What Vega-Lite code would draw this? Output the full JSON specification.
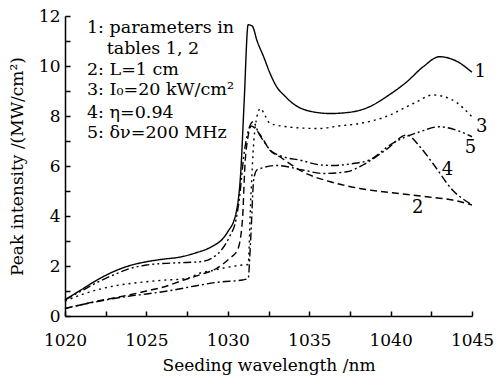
{
  "$schema": "https://vega.github.io/schema/vega-lite/v6.json",
  "width": 407,
  "height": 300,
  "autosize": "none",
  "padding": {"left": 65, "top": 16, "right": 25, "bottom": 60},
  "background": "white",
  "config": {"view": {"stroke": null}, "font": "DejaVu Serif"},
  "datasets": {
    "curves": [
      {"curve": "1", "wavelength": 1020, "intensity": 0.65},
      {"curve": "1", "wavelength": 1021, "intensity": 1.05},
      {"curve": "1", "wavelength": 1022, "intensity": 1.45},
      {"curve": "1", "wavelength": 1023, "intensity": 1.78},
      {"curve": "1", "wavelength": 1024, "intensity": 2.02},
      {"curve": "1", "wavelength": 1025, "intensity": 2.17},
      {"curve": "1", "wavelength": 1026, "intensity": 2.27},
      {"curve": "1", "wavelength": 1027, "intensity": 2.35},
      {"curve": "1", "wavelength": 1028, "intensity": 2.52},
      {"curve": "1", "wavelength": 1029, "intensity": 2.77},
      {"curve": "1", "wavelength": 1029.7, "intensity": 3.1},
      {"curve": "1", "wavelength": 1030, "intensity": 3.37},
      {"curve": "1", "wavelength": 1030.5, "intensity": 4.1},
      {"curve": "1", "wavelength": 1030.8, "intensity": 5.8},
      {"curve": "1", "wavelength": 1031.0, "intensity": 8.5},
      {"curve": "1", "wavelength": 1031.25, "intensity": 11.65},
      {"curve": "1", "wavelength": 1031.5, "intensity": 11.6},
      {"curve": "1", "wavelength": 1031.8, "intensity": 11.0},
      {"curve": "1", "wavelength": 1032.2, "intensity": 10.37},
      {"curve": "1", "wavelength": 1032.6, "intensity": 9.7},
      {"curve": "1", "wavelength": 1033.0, "intensity": 9.17},
      {"curve": "1", "wavelength": 1033.5, "intensity": 8.8},
      {"curve": "1", "wavelength": 1034.0, "intensity": 8.5},
      {"curve": "1", "wavelength": 1035.0, "intensity": 8.2},
      {"curve": "1", "wavelength": 1036.3, "intensity": 8.1},
      {"curve": "1", "wavelength": 1037.7, "intensity": 8.17},
      {"curve": "1", "wavelength": 1038.7, "intensity": 8.37},
      {"curve": "1", "wavelength": 1039.9, "intensity": 8.84},
      {"curve": "1", "wavelength": 1041.0, "intensity": 9.37},
      {"curve": "1", "wavelength": 1042.0, "intensity": 9.97},
      {"curve": "1", "wavelength": 1043.0, "intensity": 10.37},
      {"curve": "1", "wavelength": 1044.0, "intensity": 10.21},
      {"curve": "1", "wavelength": 1045.0, "intensity": 9.75},

      {"curve": "2", "wavelength": 1020, "intensity": 0.3},
      {"curve": "2", "wavelength": 1021, "intensity": 0.45},
      {"curve": "2", "wavelength": 1022, "intensity": 0.6},
      {"curve": "2", "wavelength": 1023, "intensity": 0.72},
      {"curve": "2", "wavelength": 1024, "intensity": 0.85},
      {"curve": "2", "wavelength": 1025, "intensity": 1.0},
      {"curve": "2", "wavelength": 1026, "intensity": 1.15},
      {"curve": "2", "wavelength": 1027.3, "intensity": 1.44},
      {"curve": "2", "wavelength": 1028.3, "intensity": 1.65},
      {"curve": "2", "wavelength": 1029.3, "intensity": 1.9},
      {"curve": "2", "wavelength": 1030.1, "intensity": 2.3},
      {"curve": "2", "wavelength": 1030.6, "intensity": 2.64},
      {"curve": "2", "wavelength": 1030.9, "intensity": 3.84},
      {"curve": "2", "wavelength": 1031.05, "intensity": 6.0},
      {"curve": "2", "wavelength": 1031.25, "intensity": 7.2},
      {"curve": "2", "wavelength": 1031.45, "intensity": 7.6},
      {"curve": "2", "wavelength": 1031.8, "intensity": 7.4},
      {"curve": "2", "wavelength": 1032.2, "intensity": 7.04},
      {"curve": "2", "wavelength": 1032.5, "intensity": 6.7},
      {"curve": "2", "wavelength": 1033.2, "intensity": 6.37},
      {"curve": "2", "wavelength": 1034.6, "intensity": 5.77},
      {"curve": "2", "wavelength": 1036.3, "intensity": 5.37},
      {"curve": "2", "wavelength": 1038.1, "intensity": 5.1},
      {"curve": "2", "wavelength": 1040.1, "intensity": 4.93},
      {"curve": "2", "wavelength": 1042.2, "intensity": 4.77},
      {"curve": "2", "wavelength": 1043.8, "intensity": 4.64},
      {"curve": "2", "wavelength": 1045, "intensity": 4.44},

      {"curve": "3", "wavelength": 1020, "intensity": 0.6},
      {"curve": "3", "wavelength": 1021, "intensity": 0.85},
      {"curve": "3", "wavelength": 1022, "intensity": 1.05},
      {"curve": "3", "wavelength": 1023, "intensity": 1.2},
      {"curve": "3", "wavelength": 1024, "intensity": 1.3},
      {"curve": "3", "wavelength": 1025, "intensity": 1.37},
      {"curve": "3", "wavelength": 1026, "intensity": 1.43},
      {"curve": "3", "wavelength": 1027.5, "intensity": 1.5},
      {"curve": "3", "wavelength": 1028.3, "intensity": 1.72},
      {"curve": "3", "wavelength": 1029, "intensity": 1.81},
      {"curve": "3", "wavelength": 1030, "intensity": 1.95},
      {"curve": "3", "wavelength": 1030.9, "intensity": 2.04},
      {"curve": "3", "wavelength": 1031.25, "intensity": 2.06},
      {"curve": "3", "wavelength": 1031.4, "intensity": 4.5},
      {"curve": "3", "wavelength": 1031.6, "intensity": 7.0},
      {"curve": "3", "wavelength": 1031.8, "intensity": 8.0},
      {"curve": "3", "wavelength": 1032.0, "intensity": 8.3},
      {"curve": "3", "wavelength": 1032.3, "intensity": 8.0},
      {"curve": "3", "wavelength": 1032.6, "intensity": 7.7},
      {"curve": "3", "wavelength": 1033.5, "intensity": 7.58},
      {"curve": "3", "wavelength": 1034.5, "intensity": 7.52},
      {"curve": "3", "wavelength": 1035.6, "intensity": 7.5},
      {"curve": "3", "wavelength": 1036.8, "intensity": 7.6},
      {"curve": "3", "wavelength": 1038.1, "intensity": 7.7},
      {"curve": "3", "wavelength": 1039.7, "intensity": 7.97},
      {"curve": "3", "wavelength": 1041.4, "intensity": 8.5},
      {"curve": "3", "wavelength": 1042.6, "intensity": 8.84},
      {"curve": "3", "wavelength": 1043.8, "intensity": 8.64},
      {"curve": "3", "wavelength": 1045, "intensity": 7.97},

      {"curve": "4", "wavelength": 1020, "intensity": 0.3},
      {"curve": "4", "wavelength": 1021, "intensity": 0.45},
      {"curve": "4", "wavelength": 1022, "intensity": 0.58},
      {"curve": "4", "wavelength": 1023, "intensity": 0.7},
      {"curve": "4", "wavelength": 1024, "intensity": 0.8},
      {"curve": "4", "wavelength": 1025, "intensity": 0.88},
      {"curve": "4", "wavelength": 1026.5, "intensity": 1.02},
      {"curve": "4", "wavelength": 1028.3, "intensity": 1.24},
      {"curve": "4", "wavelength": 1029.5, "intensity": 1.36},
      {"curve": "4", "wavelength": 1030.9, "intensity": 1.44},
      {"curve": "4", "wavelength": 1031.25, "intensity": 1.5},
      {"curve": "4", "wavelength": 1031.4, "intensity": 3.0},
      {"curve": "4", "wavelength": 1031.6, "intensity": 5.5},
      {"curve": "4", "wavelength": 1031.8, "intensity": 5.85},
      {"curve": "4", "wavelength": 1032.0, "intensity": 5.9},
      {"curve": "4", "wavelength": 1033.0, "intensity": 6.02},
      {"curve": "4", "wavelength": 1034.6, "intensity": 5.84},
      {"curve": "4", "wavelength": 1035.85, "intensity": 5.7},
      {"curve": "4", "wavelength": 1037.3, "intensity": 5.77},
      {"curve": "4", "wavelength": 1038.3, "intensity": 6.04},
      {"curve": "4", "wavelength": 1039.7, "intensity": 6.64},
      {"curve": "4", "wavelength": 1041.0, "intensity": 7.24},
      {"curve": "4", "wavelength": 1041.8, "intensity": 6.77},
      {"curve": "4", "wavelength": 1042.6, "intensity": 6.1},
      {"curve": "4", "wavelength": 1043.8, "intensity": 5.04},
      {"curve": "4", "wavelength": 1045, "intensity": 4.45},

      {"curve": "5", "wavelength": 1020, "intensity": 0.64},
      {"curve": "5", "wavelength": 1021, "intensity": 1.0},
      {"curve": "5", "wavelength": 1022, "intensity": 1.35},
      {"curve": "5", "wavelength": 1023, "intensity": 1.65},
      {"curve": "5", "wavelength": 1024, "intensity": 1.9},
      {"curve": "5", "wavelength": 1025, "intensity": 2.04},
      {"curve": "5", "wavelength": 1026, "intensity": 2.1},
      {"curve": "5", "wavelength": 1027, "intensity": 2.13},
      {"curve": "5", "wavelength": 1028.3, "intensity": 2.17},
      {"curve": "5", "wavelength": 1029.3, "intensity": 2.44},
      {"curve": "5", "wavelength": 1030.1, "intensity": 3.17},
      {"curve": "5", "wavelength": 1030.5, "intensity": 3.84},
      {"curve": "5", "wavelength": 1030.7, "intensity": 4.64},
      {"curve": "5", "wavelength": 1031.0, "intensity": 6.5},
      {"curve": "5", "wavelength": 1031.3, "intensity": 7.5},
      {"curve": "5", "wavelength": 1031.55, "intensity": 7.77},
      {"curve": "5", "wavelength": 1031.9, "intensity": 7.3},
      {"curve": "5", "wavelength": 1032.3, "intensity": 6.9},
      {"curve": "5", "wavelength": 1032.6, "intensity": 6.64},
      {"curve": "5", "wavelength": 1033.5, "intensity": 6.35},
      {"curve": "5", "wavelength": 1034.4, "intensity": 6.24},
      {"curve": "5", "wavelength": 1035.6, "intensity": 6.05},
      {"curve": "5", "wavelength": 1036.5, "intensity": 6.02},
      {"curve": "5", "wavelength": 1037.7, "intensity": 6.1},
      {"curve": "5", "wavelength": 1038.7, "intensity": 6.24},
      {"curve": "5", "wavelength": 1040.1, "intensity": 6.9},
      {"curve": "5", "wavelength": 1041.8, "intensity": 7.37},
      {"curve": "5", "wavelength": 1043.0, "intensity": 7.57},
      {"curve": "5", "wavelength": 1044.0, "intensity": 7.44},
      {"curve": "5", "wavelength": 1045, "intensity": 7.17}
    ],
    "legendText": [
      {"wavelength": 1021.35, "intensity": 11.52, "text": "1: parameters in"},
      {"wavelength": 1022.56, "intensity": 10.68, "text": "tables 1, 2"},
      {"wavelength": 1021.35, "intensity": 9.84, "text": "2: L=1 cm"},
      {"wavelength": 1021.35, "intensity": 9.04, "text": "3: I₀=20 kW/cm²"},
      {"wavelength": 1021.35, "intensity": 8.12, "text": "4: η=0.94"},
      {"wavelength": 1021.35, "intensity": 7.32, "text": "5:  δν=200 MHz"}
    ],
    "curveLabels": [
      {"wavelength": 1045.5, "intensity": 9.76, "text": "1"},
      {"wavelength": 1045.6, "intensity": 7.56, "text": "3"},
      {"wavelength": 1044.9, "intensity": 6.72, "text": "5"},
      {"wavelength": 1043.5, "intensity": 5.84, "text": "4"},
      {"wavelength": 1041.66, "intensity": 4.32, "text": "2"}
    ]
  },
  "encoding": {
    "x": {
      "field": "wavelength", "type": "quantitative",
      "scale": {"domain": [1020, 1045], "nice": false},
      "axis": {
        "title": "Seeding wavelength /nm",
        "values": [1020, 1022.5, 1025, 1027.5, 1030, 1032.5, 1035, 1037.5, 1040, 1042.5, 1045],
        "labelExpr": "datum.value % 5 === 0 ? format(datum.value, 'd') : ''",
        "grid": false, "tickSize": -5, "tickColor": "black", "tickWidth": 1.5,
        "domainColor": "black", "domainWidth": 1.5,
        "labelFont": "DejaVu Serif", "labelFontSize": 17, "labelColor": "black", "labelPadding": 21,
        "labelFlush": false, "labelOverlap": false,
        "titleFont": "DejaVu Serif", "titleFontSize": 17, "titleFontWeight": "normal", "titleColor": "black", "titlePadding": 9
      }
    },
    "y": {
      "field": "intensity", "type": "quantitative",
      "scale": {"domain": [0, 12], "nice": false},
      "axis": {
        "title": "Peak intensity /(MW/cm²)",
        "values": [0, 1, 2, 3, 4, 5, 6, 7, 8, 9, 10, 11, 12],
        "labelExpr": "datum.value % 2 === 0 ? format(datum.value, 'd') : ''",
        "grid": false, "tickSize": -5, "tickColor": "black", "tickWidth": 1.5,
        "domainColor": "black", "domainWidth": 1.5,
        "labelFont": "DejaVu Serif", "labelFontSize": 17, "labelColor": "black", "labelPadding": 10,
        "labelFlush": false, "labelOverlap": false,
        "titleFont": "DejaVu Serif", "titleFontSize": 17, "titleFontWeight": "normal", "titleColor": "black", "titlePadding": 12
      }
    }
  },
  "layer": [
    {
      "data": {"name": "curves"},
      "mark": {"type": "line", "color": "black", "strokeWidth": 1.4, "interpolate": "monotone"},
      "encoding": {
        "strokeDash": {
          "field": "curve", "type": "nominal",
          "scale": {"domain": ["1", "2", "3", "4", "5"], "range": [[1, 0], [7, 4], [2, 4], [8, 3, 2, 3], [8, 3, 2, 3, 2, 3]]},
          "legend": null
        }
      }
    },
    {
      "data": {"name": "legendText"},
      "mark": {"type": "text", "align": "left", "baseline": "middle", "font": "DejaVu Serif", "fontSize": 17.5, "color": "black"},
      "encoding": {"text": {"field": "text"}}
    },
    {
      "data": {"name": "curveLabels"},
      "mark": {"type": "text", "align": "center", "baseline": "middle", "font": "DejaVu Serif", "fontSize": 18, "color": "black"},
      "encoding": {"text": {"field": "text"}}
    }
  ]
}
